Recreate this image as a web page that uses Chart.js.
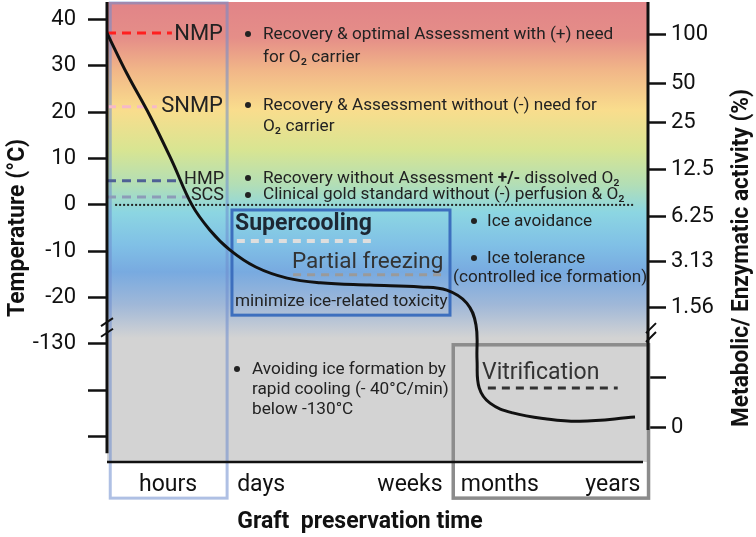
<!DOCTYPE html>
<html>
<head>
<meta charset="utf-8">
<script src="https://cdn.jsdelivr.net/npm/chart.js@4.4.0/dist/chart.umd.min.js"></script>
<style>
  html, body { margin: 0; padding: 0; background: #fff; }
  #wrap { width: 756px; height: 537px; }
</style>
</head>
<body>
<div id="wrap"><canvas id="chart"></canvas></div>
<script>
// temperature curve (x = preservation time position, y = axis position; below -20 the axis is broken)
const curveX = [0, 3.7, 7.95, 12.0, 15.7, 19.0, 22.7, 27.5, 33.3, 39.4, 48.6, 57.9, 62.8, 66.5, 68.2, 68.4, 68.8, 70.8, 75.0, 81.3, 87.4, 97.6];
const curveT = [37.1, 28.3, 19.2, 9.5, 0, -5.4, -9.7, -13.4, -15.8, -16.8, -17.3, -17.7, -18.4, -21.2, -25.9, -33.5, -39.5, -42.8, -44.9, -46.2, -46.7, -45.8];

// left axis
const tempTickPos = [40, 30, 20, 10, 0, -10, -20, -30, -40, -50];
const tempTickLabels = ["40", "30", "20", "10", "0", "-10", "-20", "-130", "", ""];

// right axis
const activityTickPos = [36.7, 26.3, 17.7, 7.6, -2.6, -12.3, -22.2, -37.3, -48.1];
const activityLabels = ["100", "50", "25", "12.5", "6.25", "3.13", "1.56", "", "0"];

// x axis
const timeTickPos = [11.3, 28.5, 56, 72.6, 93.5];
const timeLabels = ["hours", "days", "weeks", "months", "years"];

// perfusion methods: level and extent of their dashed marker
const methods = ["NMP", "SNMP", "HMP", "SCS"];
const methodLevel = [37.1, 21.2, 5.2, 1.7];
const methodEnd = [12.0, 9.2, 13.5, 15.0];
const methodColor = ["#ff1f1f", "#f6b9c9", "#4f6195", "#8d9bb8"];

// low temperature techniques
const techniques = ["Supercooling", "Partial freezing", "Vitrification"];
const techLevel = [-7.8, -15.1, -39.5];
const techFrom = [24.0, 34.4, 70.4];
const techTo = [49.0, 62.0, 94.4];
const techColor = ["#dedede", "#9a9a9a", "#333333"];

const datasets = [
  {
    data: curveX.map((x, i) => ({ x: x, y: curveT[i] })),
    borderColor: "#111",
    borderWidth: 3,
    tension: 0.4,
    pointRadius: 0,
    order: 0,
  },
  {
    data: [{ x: 1.5, y: 0 }, { x: 97.3, y: 0 }],
    borderColor: "#222",
    borderWidth: 2,
    borderDash: [2, 2],
    pointRadius: 0,
    order: 1,
  },
];
methods.forEach((m, i) => {
  datasets.push({
    data: [{ x: 0, y: methodLevel[i] }, { x: methodEnd[i], y: methodLevel[i] }],
    borderColor: methodColor[i],
    borderWidth: 3,
    borderDash: [9, 6],
    pointRadius: 0,
    order: 1,
  });
});
techniques.forEach((t, i) => {
  datasets.push({
    data: [{ x: techFrom[i], y: techLevel[i] }, { x: techTo[i], y: techLevel[i] }],
    borderColor: techColor[i],
    borderWidth: i == 0 ? 4 : 3,
    borderDash: [8, 6],
    pointRadius: 0,
    order: 1,
  });
});

function txt(ctx, s, x, y, size, weight, align, maxW) {
  ctx.font = (weight || "normal") + " " + size + "px Roboto";
  ctx.textAlign = align || "left";
  ctx.textBaseline = "middle";
  if (maxW) ctx.fillText(s, x, y, maxW);
  else ctx.fillText(s, x, y);
  return ctx.measureText(s).width;
}

function dot(ctx, x, y) {
  ctx.beginPath();
  ctx.arc(x, y, 3, 0, Math.PI * 2);
  ctx.fill();
}

function vtitle(ctx, s, x, y, maxW) {
  ctx.save();
  ctx.translate(x, y);
  ctx.rotate(-Math.PI / 2);
  txt(ctx, s, 0, 0, 23, "bold", "center", maxW);
  ctx.restore();
}

const decor = {
  id: "decor",
  beforeDraw(chart) {
    const { ctx, chartArea: a } = chart;
    const g = ctx.createLinearGradient(0, a.top, 0, a.bottom);
    const stops = [
      [2, "rgb(225,132,136)"],
      [38, "rgb(229,142,136)"],
      [70, "rgb(241,182,136)"],
      [110, "rgb(249,221,141)"],
      [150, "rgb(216,229,146)"],
      [185, "rgb(178,222,182)"],
      [212, "rgb(140,214,226)"],
      [245, "rgb(128,192,230)"],
      [272, "rgb(120,170,224)"],
      [305, "rgb(160,184,216)"],
      [338, "rgb(211,211,211)"],
      [462, "rgb(211,211,211)"],
    ];
    stops.forEach((s) => g.addColorStop(Math.min(1, Math.max(0, (s[0] - a.top) / (a.bottom - a.top))), s[1]));
    ctx.save();
    ctx.fillStyle = g;
    ctx.fillRect(a.left, a.top, a.right - a.left, a.bottom - a.top);
    ctx.restore();
  },
  beforeDatasetsDraw(chart) {
    const { ctx } = chart;
    const x = chart.scales.x, y = chart.scales.y;
    const box = (x0, x1, y0, y1, color, w) => {
      ctx.strokeStyle = color;
      ctx.lineWidth = w;
      const l = x.getPixelForValue(x0), r = x.getPixelForValue(x1);
      const t = y.getPixelForValue(y0), b = y.getPixelForValue(y1);
      ctx.strokeRect(l, t, r - l, b - t);
    };
    ctx.save();
    box(0.6, 22.2, 43.6, -63.3, "rgba(110,140,205,0.55)", 3);
    box(23.1, 63.4, -1.1, -23.8, "#3d6fbe", 3);
    box(64.0, 100.1, -30.2, -63.3, "#8c8c8c", 3.5);
    ctx.restore();
  },
  afterDatasetsDraw(chart) {
    const { ctx, chartArea: a } = chart;
    const y = chart.scales.y;
    ctx.save();
    ctx.strokeStyle = "#111";
    ctx.lineCap = "butt";
    ctx.lineWidth = 3;
    ctx.beginPath();
    ctx.moveTo(a.left, a.top);
    ctx.lineTo(a.left, y.getPixelForValue(-53.6));
    ctx.moveTo(a.right, a.top);
    ctx.lineTo(a.right, y.getPixelForValue(-48.6));
    ctx.stroke();
    ctx.lineWidth = 2.5;
    ctx.beginPath();
    ctx.moveTo(a.left, a.bottom);
    ctx.lineTo(643, a.bottom);
    ctx.stroke();
    // axis breaks
    ctx.lineWidth = 2;
    ctx.beginPath();
    [-25.3, -27.6].forEach((v) => {
      const p = y.getPixelForValue(v);
      ctx.moveTo(a.left - 6, p + 4);
      ctx.lineTo(a.left + 6, p - 4);
    });
    [-26.6, -28.5].forEach((v) => {
      const p = y.getPixelForValue(v);
      ctx.moveTo(a.right - 2, p + 5);
      ctx.lineTo(a.right + 8, p - 5);
    });
    ctx.stroke();
    ctx.restore();
  },
  afterDraw(chart) {
    const { ctx } = chart;
    ctx.save();
    ctx.fillStyle = "#222";
    txt(ctx, "NMP", 223, 34, 22, "normal", "right");
    txt(ctx, "SNMP", 223, 106, 22, "normal", "right");
    txt(ctx, "HMP", 224, 179, 18, "normal", "right");
    txt(ctx, "SCS", 224, 195, 18, "normal", "right");

    const fs = 17.2, bx = 248, tx = 263;
    dot(ctx, bx, 34);
    txt(ctx, "Recovery & optimal Assessment with (+) need", tx, 35, fs);
    txt(ctx, "for O₂ carrier", tx, 58, fs);
    dot(ctx, bx, 105);
    txt(ctx, "Recovery & Assessment without (-) need for", tx, 106, fs);
    txt(ctx, "O₂ carrier", tx, 127, fs);
    dot(ctx, bx, 178);
    let w = txt(ctx, "Recovery without Assessment ", tx, 179, fs);
    w += txt(ctx, "+/-", tx + w, 179, fs, "bold");
    txt(ctx, " dissolved O₂", tx + w, 179, fs);
    dot(ctx, bx, 195);
    txt(ctx, "Clinical gold standard without (-) perfusion & O₂", tx, 195, fs);

    ctx.fillStyle = "#1d2733";
    txt(ctx, "Supercooling", 235, 224, 23, "bold");
    ctx.fillStyle = "#333";
    txt(ctx, "Partial freezing", 292, 262, 22.5);
    ctx.fillStyle = "#222";
    txt(ctx, "minimize ice-related toxicity", 235, 302, fs);

    dot(ctx, 474, 221);
    txt(ctx, "Ice avoidance", 487, 222, fs);
    dot(ctx, 474, 258);
    txt(ctx, "Ice tolerance", 487, 259, fs);
    txt(ctx, "(controlled ice formation)", 453, 278, fs);

    dot(ctx, 237, 369);
    txt(ctx, "Avoiding ice formation by", 252, 370, fs);
    txt(ctx, "rapid cooling (- 40°C/min)", 252, 390, fs);
    txt(ctx, "below -130°C", 252, 410, fs);

    ctx.fillStyle = "#333";
    txt(ctx, "Vitrification", 482, 373, 23);

    // axis titles
    ctx.fillStyle = "#111";
    vtitle(ctx, "Temperature (°C)", 18, 228);
    vtitle(ctx, "Metabolic/ Enzymatic activity (%)", 742, 258, 338);
    txt(ctx, "Graft  preservation time", 360, 522, 23, "bold", "center");
    ctx.restore();
  },
};

const noPad = (s) => {
  s.paddingTop = 0;
  s.paddingBottom = 0;
  s.paddingLeft = 0;
  s.paddingRight = 0;
};

new Chart(document.getElementById("chart"), {
  type: "line",
  data: { datasets: datasets },
  plugins: [decor],
  options: {
    responsive: true,
    maintainAspectRatio: false,
    animation: false,
    layout: { padding: { top: 2, left: 0, right: 0, bottom: 0 } },
    plugins: { legend: { display: false }, tooltip: { enabled: false } },
    scales: {
      x: {
        type: "linear",
        min: 0,
        max: 100,
        afterBuildTicks: (s) => {
          s.ticks = timeTickPos.map((v) => ({ value: v }));
        },
        afterFit: (s) => {
          s.height = 75;
          noPad(s);
        },
        ticks: {
          callback: (v, i) => timeLabels[i],
          font: { family: "Roboto", size: 23 },
          color: "#111",
          padding: 9,
          maxRotation: 0,
          autoSkip: false,
        },
        grid: { display: false, drawTicks: false },
        border: { display: false },
      },
      y: {
        position: "left",
        min: -55.5,
        max: 43.8,
        afterBuildTicks: (s) => {
          s.ticks = tempTickPos.map((v) => ({ value: v }));
        },
        afterFit: (s) => {
          s.width = 107;
          noPad(s);
        },
        ticks: {
          callback: (v, i) => tempTickLabels[i],
          font: { family: "Roboto", size: 22 },
          color: "#111",
          padding: 12,
          autoSkip: false,
        },
        grid: { drawOnChartArea: false, tickLength: 19, tickWidth: 2.5, color: "#111" },
        border: { display: false },
      },
      y1: {
        position: "right",
        min: -55.5,
        max: 43.8,
        afterBuildTicks: (s) => {
          s.ticks = activityTickPos.map((v) => ({ value: v }));
        },
        afterFit: (s) => {
          s.width = 108;
          noPad(s);
        },
        ticks: {
          callback: (v, i) => activityLabels[i],
          font: { family: "Roboto", size: 22 },
          color: "#111",
          padding: 5,
          autoSkip: false,
        },
        grid: { drawOnChartArea: false, tickLength: 18, tickWidth: 2.5, color: "#111" },
        border: { display: false },
      },
    },
  },
});
</script>
</body>
</html>
